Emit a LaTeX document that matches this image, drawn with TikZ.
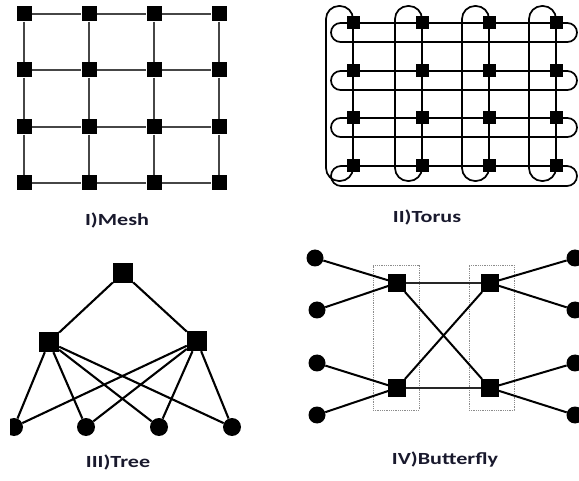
\documentclass[tikz,border=0pt]{standalone}
\usepackage{fontspec}
\usepackage{graphicx}
\newfontfamily\labfont{Carlito}
\usetikzlibrary{backgrounds}
\definecolor{labcol}{RGB}{25,25,45}
\definecolor{meshgray}{RGB}{70,70,70}
\tikzset{
  meshnode/.style={fill=black, draw=none, minimum size=15pt, inner sep=0pt},
  torusnode/.style={fill=black, draw=none, minimum size=13pt, inner sep=0pt},
  treesq/.style={fill=black, draw=none, minimum size=20pt, inner sep=0pt},
  treeleaf/.style={circle, fill=black, draw=none, minimum size=18pt, inner sep=0pt},
  bfsq/.style={fill=black, draw=none, minimum size=17.5pt, inner sep=0pt},
  bfleaf/.style={circle, fill=black, draw=none, minimum size=17pt, inner sep=0pt},
  meshh/.style={draw=meshgray, line width=1.5pt},
  meshv/.style={draw=meshgray, line width=2pt},
  torusline/.style={draw=black, line width=1.7pt},
  treeedge/.style={draw=black, line width=2.1pt},
  bfthick/.style={draw=black, line width=2pt},
  bfthin/.style={draw=black!85, line width=1.2pt},
  bfbox/.style={draw=black!45, densely dotted, line width=0.8pt},
  lab/.style={font=\labfont\bfseries\fontsize{17}{19}\selectfont, text=labcol, inner sep=0pt}
}
\begin{document}
\begin{tikzpicture}[x=1pt,y=-1pt]
\useasboundingbox (0,0) rectangle (579,481);
\clip (0,0) rectangle (579,481);

% ---------- I) Mesh ----------
\foreach \i/\x in {1/24,2/89,3/154,4/219}
  \foreach \j/\y in {1/14,2/70,3/127,4/183}
    \node[meshnode] (m\i\j) at (\x,\y) {};
\foreach \i in {1,...,4}{
  \draw[meshv] (m\i1) -- (m\i2);
  \draw[meshv] (m\i2) -- (m\i3);
  \draw[meshv] (m\i3) -- (m\i4);
  \draw[meshh] (m1\i) -- (m2\i);
  \draw[meshh] (m2\i) -- (m3\i);
  \draw[meshh] (m3\i) -- (m4\i);
}
\node[lab] (labmesh) at (117,220) {\scalebox{1.3}[1]{I)Mesh}};

% ---------- II) Torus ----------
\foreach \i/\x in {1/353,2/422,3/489,4/556}
  \foreach \j/\y in {1/23,2/71,3/118,4/166}
    \node[torusnode] (t\i\j) at (\x,\y) {};
\begin{pgfonlayer}{background}
  \foreach \y in {23,71,118}
    \draw[torusline, rounded corners=9.5pt] (331,\y) rectangle (577,{\y+19});
  \draw[torusline, rounded corners=10pt] (331,166) rectangle (577,186);
  \foreach \x in {353,422,489,556}
    \draw[torusline, rounded corners=13pt] ({\x-27},6) rectangle (\x,181);
\end{pgfonlayer}
\node[lab] (labtorus) at (427,217) {\scalebox{1.3}[1]{II)Torus}};

% ---------- III) Tree ----------
\node[treesq] (root) at (123,273) {};
\node[treesq] (tl) at (49,342) {};
\node[treesq] (tr) at (197,341) {};
\begin{scope}
  \clip (10,380) rectangle (60,470);
  \node[treeleaf] (lf1) at (14,427) {};
\end{scope}
\node[treeleaf] (lf2) at (86,427) {};
\node[treeleaf] (lf3) at (159,427) {};
\node[treeleaf] (lf4) at (232,427) {};
\draw[treeedge] (root) -- (tl);
\draw[treeedge] (root) -- (tr);
\foreach \k in {1,...,4}{
  \draw[treeedge] (tl) -- (lf\k);
  \draw[treeedge] (tr) -- (lf\k);
}
\node[lab] (labtree) at (118,462) {\scalebox{1.3}[1]{III)Tree}};

% ---------- IV) Butterfly ----------
\node[bfbox, minimum width=46pt, minimum height=145pt, inner sep=0pt] (boxl) at (396,337.5) {};
\node[bfbox, minimum width=45pt, minimum height=145pt, inner sep=0pt] (boxr) at (491.5,337.5) {};
\node[bfsq] (ul) at (397,283) {};
\node[bfsq] (ll) at (397,388) {};
\node[bfsq] (ur) at (490,283) {};
\node[bfsq] (lr) at (490,388) {};
\node[bfleaf] (a1) at (315,258) {};
\node[bfleaf] (a2) at (317,310) {};
\node[bfleaf] (a3) at (317,363) {};
\node[bfleaf] (a4) at (317,415) {};
\node[bfleaf] (b1) at (575,258) {};
\node[bfleaf] (b2) at (575,310) {};
\node[bfleaf] (b3) at (575,363) {};
\node[bfleaf] (b4) at (575,415) {};
\draw[bfthick] (a1) -- (ul);
\draw[bfthick] (a2) -- (ul);
\draw[bfthick] (a3) -- (ll);
\draw[bfthick] (a4) -- (ll);
\draw[bfthick] (ur) -- (b1);
\draw[bfthick] (ur) -- (b2);
\draw[bfthick] (lr) -- (b3);
\draw[bfthick] (lr) -- (b4);
\draw[bfthin] (ul) -- (ur);
\draw[bfthin] (ll) -- (lr);
\draw[bfthick] (ul) -- (lr);
\draw[bfthick] (ll) -- (ur);
\node[lab] (labbf) at (445,460) {\scalebox{1.3}[1]{IV)Butterfly}};
\end{tikzpicture}
\end{document}
